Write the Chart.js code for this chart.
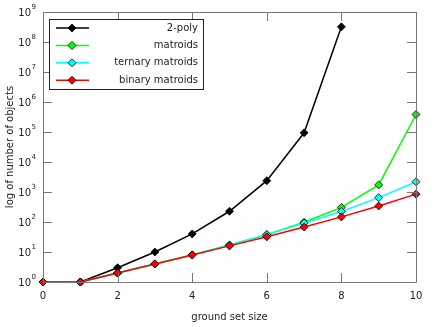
<!DOCTYPE html>
<html>
<head>
<meta charset="utf-8">
<script src="https://cdn.jsdelivr.net/npm/chart.js@4/dist/chart.umd.min.js"></script>
<style>
  html, body { margin: 0; padding: 0; background: #fff; }
  #wrap { width: 436px; height: 327px; }
</style>
</head>
<body>
<div id="wrap"><canvas id="c" width="436" height="327"></canvas></div>
<script>
// ground set sizes
const sizes = [0, 1, 2, 3, 4, 5, 6, 7, 8, 9, 10];
const polyCounts = [1, 1, 3, 10, 40, 228, 2380, 94000, 320000000];
const matroidCounts = [1, 1, 2, 4, 8, 17, 38, 98, 306, 1724, 383172];
const ternaryCounts = [1, 1, 2, 4, 8, 17, 38, 92, 225, 650, 2200];
const binaryCounts = [1, 1, 2, 4, 8, 16, 32, 68, 148, 342, 848];
const xTicks = [0, 2, 4, 6, 8, 10];
const yTicks = [1, 10, 100, 1e3, 1e4, 1e5, 1e6, 1e7, 1e8, 1e9];

const FONT = 'DejaVu Sans';

function pts(vals) {
    return vals.map((v, i) => ({ x: sizes[i], y: v }));
}

function series(label, vals, color) {
    return {
        label: label,
        data: pts(vals),
        borderColor: color,
        backgroundColor: color,
        borderWidth: 1.5,
        pointStyle: 'rectRot',
        pointRadius: 4,
        pointBorderWidth: 0.8,
        pointBorderColor: '#000',
        pointBackgroundColor: color,
        tension: 0
    };
}

// first dataset ends up on top
const datasets = [
    series('binary matroids', binaryCounts, '#ff0000'),
    series('ternary matroids', ternaryCounts, '#00ffff'),
    series('matroids', matroidCounts, '#00ff00'),
    series('2-poly', polyCounts, '#000000')
];

// frame, inward ticks, y labels with exponents and the legend box
const framePlugin = {
    id: 'frame',
    afterDraw(chart) {
        const ctx = chart.ctx;
        const a = chart.chartArea;
        const xs = chart.scales.x, ys = chart.scales.y;
        ctx.save();
        ctx.strokeStyle = '#777';
        ctx.lineWidth = 1;
        ctx.beginPath();
        ctx.rect(Math.round(a.left) + 0.5, Math.round(a.top) + 0.5,
                 Math.round(a.right - a.left), Math.round(a.bottom - a.top));
        ctx.stroke();
        const len = 9;
        ctx.beginPath();
        xTicks.forEach(v => {
            const px = Math.round(xs.getPixelForValue(v)) + 0.5;
            ctx.moveTo(px, a.bottom); ctx.lineTo(px, a.bottom - len);
            ctx.moveTo(px, a.top); ctx.lineTo(px, a.top + len);
        });
        yTicks.forEach(v => {
            const py = Math.round(ys.getPixelForValue(v)) + 0.5;
            ctx.moveTo(a.left, py); ctx.lineTo(a.left + len, py);
            ctx.moveTo(a.right, py); ctx.lineTo(a.right - len, py);
        });
        ctx.stroke();

        // y tick labels: 10 with raised exponent
        ctx.fillStyle = '#222';
        ctx.textBaseline = 'middle';
        yTicks.forEach(v => {
            const py = ys.getPixelForValue(v);
            const e = String(Math.round(Math.log10(v)));
            ctx.font = '7px ' + FONT;
            ctx.textAlign = 'right';
            ctx.fillText(e, 36, py - 5);
            const ew = ctx.measureText(e).width;
            ctx.font = '10px ' + FONT;
            ctx.fillText('10', 36 - ew - 0.5, py + 1);
        });

        // legend
        const bx = 49.5, by = 19.5, bw = 154, bh = 70;
        ctx.fillStyle = '#fff';
        ctx.fillRect(bx, by, bw, bh);
        ctx.strokeStyle = '#222';
        ctx.lineWidth = 1;
        ctx.strokeRect(bx, by, bw, bh);
        const rows = [
            ['2-poly', '#000000'],
            ['matroids', '#00ff00'],
            ['ternary matroids', '#00ffff'],
            ['binary matroids', '#ff0000']
        ];
        ctx.font = '10px ' + FONT;
        ctx.textAlign = 'right';
        ctx.textBaseline = 'middle';
        rows.forEach((r, i) => {
            const y = 28 + i * 17.4;
            ctx.strokeStyle = r[1];
            ctx.lineWidth = 1.5;
            ctx.beginPath();
            ctx.moveTo(56, y); ctx.lineTo(89, y);
            ctx.stroke();
            ctx.beginPath();
            ctx.moveTo(72, y - 4); ctx.lineTo(76, y); ctx.lineTo(72, y + 4); ctx.lineTo(68, y);
            ctx.closePath();
            ctx.fillStyle = r[1];
            ctx.fill();
            ctx.lineWidth = 0.8;
            ctx.strokeStyle = '#000';
            ctx.stroke();
            ctx.fillStyle = '#222';
            ctx.fillText(r[0], 198, y);
        });
        ctx.restore();
    }
};

new Chart(document.getElementById('c'), {
    type: 'line',
    data: { datasets: datasets },
    plugins: [framePlugin],
    options: {
        responsive: false,
        animation: false,
        clip: false,
        layout: { padding: { top: 12, right: 20, left: 0, bottom: 0 } },
        plugins: { legend: { display: false }, tooltip: { enabled: false } },
        scales: {
            x: {
                type: 'linear',
                min: 0, max: 10,
                grid: { display: false, drawTicks: false },
                border: { display: false },
                afterBuildTicks: s => { s.ticks = xTicks.map(v => ({ value: v })); },
                ticks: { color: '#222', font: { family: FONT, size: 10 }, padding: 8 },
                title: { display: true, text: 'ground set size', color: '#222',
                         font: { family: FONT, size: 10 }, padding: { top: 4 } },
                afterFit: s => { s.height = 45; }
            },
            y: {
                type: 'logarithmic',
                min: 1, max: 1e9,
                grid: { display: false, drawTicks: false },
                border: { display: false },
                afterBuildTicks: s => { s.ticks = yTicks.map(v => ({ value: v })); },
                ticks: { display: false },
                title: { display: true, text: 'log of number of objects', color: '#222',
                         font: { family: FONT, size: 10 }, padding: { bottom: 2 } },
                afterFit: s => { s.width = 43; }
            }
        }
    }
});
</script>
</body>
</html>
